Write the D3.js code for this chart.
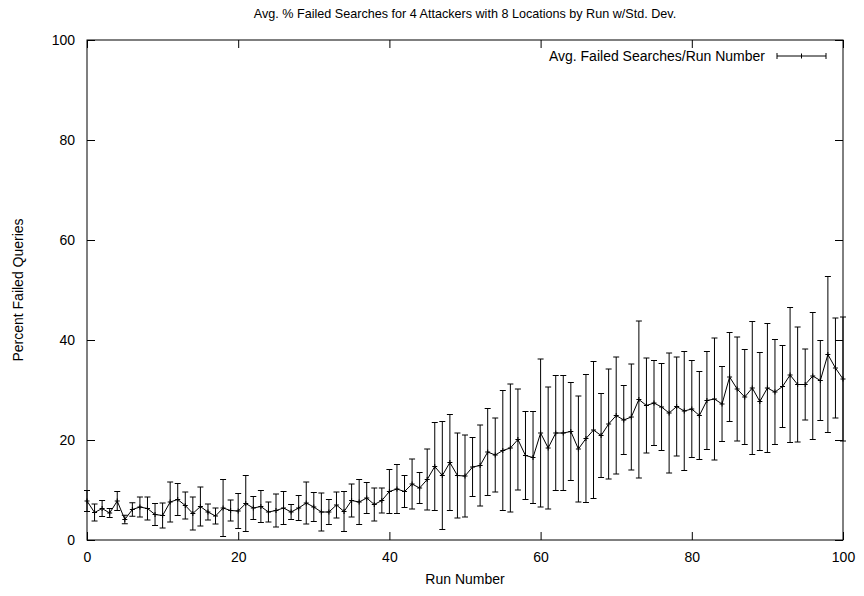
<!DOCTYPE html>
<html>
<head>
<meta charset="utf-8">
<script src="https://cdn.jsdelivr.net/npm/d3@7"></script>
<style>
  body { margin: 0; background: #fff; }
  text { font-family: "Liberation Sans", Arial, Helvetica, sans-serif; font-size: 14px; fill: #000; }
</style>
</head>
<body>
<svg id="chart" width="864" height="596"></svg>
<script>
// average % failed searches per run
var runs = d3.range(0, 101);
var avgFailed = [
    7.8, 5.5, 6.3, 5.4, 7.8, 4.1, 6.1, 6.6, 6.3, 5.1,
    4.9, 7.6, 8.1, 6.9, 5.3, 6.7, 5.6, 4.8, 6.4, 5.9,
    5.8, 7.3, 6.4, 6.7, 5.6, 5.9, 6.4, 5.6, 6.4, 7.4,
    6.6, 5.6, 5.6, 7.0, 5.7, 7.9, 7.6, 8.4, 7.1, 7.9,
    9.7, 10.2, 9.7, 11.2, 10.4, 12.1, 14.7, 12.9, 15.5, 12.9,
    12.8, 14.6, 14.9, 17.6, 17.0, 17.9, 18.4, 20.1, 16.9, 16.5,
    21.4, 18.4, 21.4, 21.4, 21.7, 18.2, 20.3, 22.0, 20.9, 23.2,
    24.9, 24.0, 24.6, 28.1, 26.9, 27.4, 26.6, 25.4, 26.7, 25.8,
    26.2, 24.9, 27.9, 28.2, 27.2, 32.6, 30.2, 28.6, 30.4, 27.7,
    30.4, 29.6, 30.7, 33.0, 31.1, 31.1, 32.8, 31.9, 37.1, 34.4,
    32.2
];
// standard deviation per run
var stdDev = [
    2.1, 1.7, 1.6, 0.9, 1.9, 0.85, 1.35, 2.0, 2.3, 2.2,
    2.5, 4.0, 3.2, 2.7, 3.3, 3.9, 1.6, 1.6, 5.7, 2.1,
    3.5, 5.6, 2.3, 3.2, 2.0, 3.3, 3.3, 1.5, 2.5, 4.2,
    2.9, 3.8, 2.5, 2.6, 4.0, 3.3, 4.5, 3.1, 3.3, 2.5,
    4.4, 4.9, 3.2, 5.0, 3.1, 6.1, 8.8, 10.8, 9.6, 8.5,
    8.2, 5.9, 8.1, 8.7, 7.4, 12.0, 12.8, 10.1, 8.8, 9.2,
    14.8, 12.2, 11.5, 11.5, 9.8, 10.6, 12.8, 13.7, 8.4, 11.0,
    11.7, 6.9, 10.6, 15.7, 9.5, 8.5, 8.7, 12.0, 9.9, 11.9,
    9.7, 8.8, 9.8, 12.2, 7.5, 8.9, 10.4, 9.5, 13.3, 9.8,
    12.9, 10.5, 8.2, 13.5, 11.5, 7.1, 12.7, 8.0, 15.6, 10.0,
    12.4
];
var xTicks = [0, 20, 40, 60, 80, 100];
var yTicks = [0, 20, 40, 60, 80, 100];

var data = runs.map(function(r, i) {
    return { run: r, avg: avgFailed[i], sd: stdDev[i] };
});

var margin = { top: 40, right: 21, bottom: 56, left: 87 };
var svg = d3.select("#chart");
var width = 864 - margin.left - margin.right;
var height = 596 - margin.top - margin.bottom;

var g = svg.append("g")
    .attr("transform", `translate(${margin.left},${margin.top})`);

var xScale = d3.scaleLinear().domain([0, 100]).range([0, width]);
var yScale = d3.scaleLinear().domain([0, 100]).range([height, 0]);

// axes with inward ticks, mirrored on top/right
var tickLen = 8;
g.append("g")
    .attr("transform", `translate(0,${height})`)
    .call(d3.axisBottom(xScale).tickValues(xTicks).tickSizeInner(-tickLen).tickSizeOuter(0).tickPadding(tickLen + 4))
    .call(ax => ax.select(".domain").remove());
g.append("g")
    .call(d3.axisTop(xScale).tickValues(xTicks).tickSizeInner(-tickLen).tickSizeOuter(0).tickFormat(""))
    .call(ax => ax.select(".domain").remove());
g.append("g")
    .call(d3.axisLeft(yScale).tickValues(yTicks).tickSizeInner(-tickLen).tickSizeOuter(0).tickPadding(tickLen + 4))
    .call(ax => ax.select(".domain").remove());
g.append("g")
    .attr("transform", `translate(${width},0)`)
    .call(d3.axisRight(yScale).tickValues(yTicks).tickSizeInner(-tickLen).tickSizeOuter(0).tickFormat(""))
    .call(ax => ax.select(".domain").remove());

g.selectAll(".tick text")
    .style("font-family", "'Liberation Sans', Arial, sans-serif")
    .style("font-size", "14px");
g.selectAll(".tick line").attr("stroke", "#000");

// frame
g.append("rect")
    .attr("x", 0).attr("y", 0)
    .attr("width", width).attr("height", height)
    .attr("fill", "none")
    .attr("stroke", "#000")
    .attr("stroke-width", 1);

// error bars
var cap = 3;
var bars = g.append("g").attr("stroke", "#000").attr("stroke-width", 1);
bars.selectAll("line.bar")
    .data(data).enter().append("line")
    .attr("class", "bar")
    .attr("x1", d => xScale(d.run)).attr("x2", d => xScale(d.run))
    .attr("y1", d => yScale(d.avg + d.sd)).attr("y2", d => yScale(d.avg - d.sd));
bars.selectAll("line.capTop")
    .data(data).enter().append("line")
    .attr("class", "capTop")
    .attr("x1", d => xScale(d.run) - cap).attr("x2", d => xScale(d.run) + cap)
    .attr("y1", d => yScale(d.avg + d.sd)).attr("y2", d => yScale(d.avg + d.sd));
bars.selectAll("line.capBot")
    .data(data).enter().append("line")
    .attr("class", "capBot")
    .attr("x1", d => xScale(d.run) - cap).attr("x2", d => xScale(d.run) + cap)
    .attr("y1", d => yScale(d.avg - d.sd)).attr("y2", d => yScale(d.avg - d.sd));

// mean line
var line = d3.line().x(d => xScale(d.run)).y(d => yScale(d.avg));
g.append("path")
    .datum(data)
    .attr("d", line)
    .attr("fill", "none")
    .attr("stroke", "#000")
    .attr("stroke-width", 1);

// plus markers
g.append("g").selectAll("path")
    .data(data).enter().append("path")
    .attr("d", d => {
        var x = xScale(d.run), y = yScale(d.avg);
        return `M${x - 2.5},${y}H${x + 2.5}M${x},${y - 2.5}V${y + 2.5}`;
    })
    .attr("stroke", "#000")
    .attr("stroke-width", 1);

// title and axis labels
svg.append("text")
    .attr("x", margin.left + width / 2)
    .attr("y", 18)
    .attr("text-anchor", "middle")
    .style("font-size", "12.6px")
    .text("Avg. % Failed Searches for 4 Attackers with 8 Locations by Run w/Std. Dev.");

svg.append("text")
    .attr("x", margin.left + width / 2)
    .attr("y", 584)
    .attr("text-anchor", "middle")
    .text("Run Number");

svg.append("text")
    .attr("transform", `translate(23,${margin.top + height / 2}) rotate(-90)`)
    .attr("text-anchor", "middle")
    .text("Percent Failed Queries");

// legend
var legY = 56;
svg.append("text")
    .attr("x", 765)
    .attr("y", legY + 5)
    .attr("text-anchor", "end")
    .text("Avg. Failed Searches/Run Number");
var lg = svg.append("g").attr("stroke", "#000").attr("stroke-width", 1);
lg.append("path").attr("d", `M777,${legY}H826M777,${legY - 3}V${legY + 3}M826,${legY - 3}V${legY + 3}M801.5,${legY - 2.5}V${legY + 2.5}`);
</script>
</body>
</html>
